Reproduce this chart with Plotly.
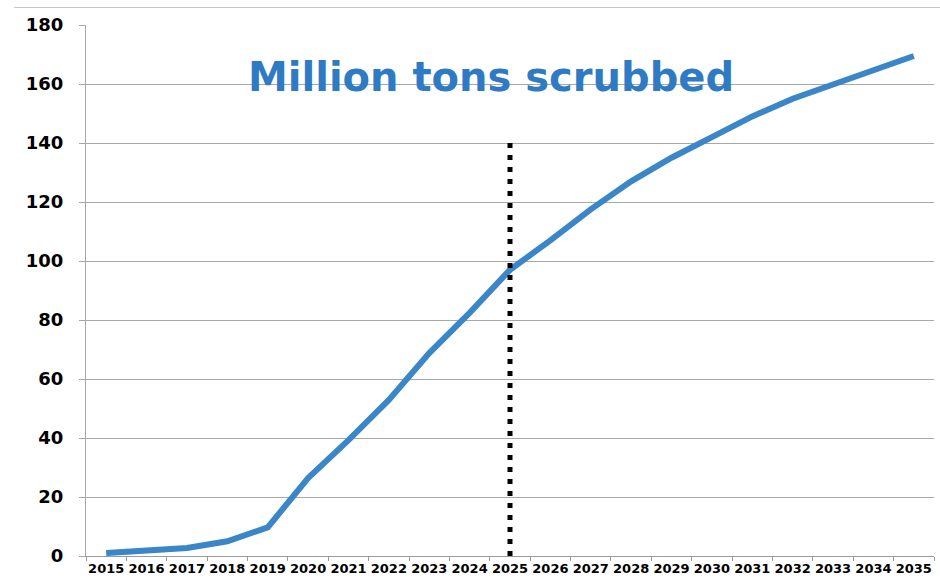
import plotly.graph_objects as go

years = [str(y) for y in range(2015, 2036)]
scrubbed = [1.0, 1.7, 2.7, 5.0, 9.7, 26.4, 39.3, 52.9, 68.8, 82.4, 97.0,
            107.0, 117.5, 127.0, 135.0, 142.0, 149.0, 155.0, 160.0, 165.0, 169.5]
y_ticks = list(range(0, 181, 20))
marker_year = "2025"
marker_top = 140
title_text = "Million tons scrubbed"

fig = go.Figure()
fig.add_trace(go.Scatter(
    x=years, y=scrubbed, mode="lines",
    line=dict(color="#3A86C8", width=6),
    hoverinfo="x+y", showlegend=False,
))

fig.add_shape(type="line", xref="x", yref="y",
              x0=years.index(marker_year), x1=years.index(marker_year),
              y0=0, y1=marker_top,
              line=dict(color="black", width=5, dash="5px,7px"))

# faint border line at top of chart area
fig.add_shape(type="line", xref="paper", yref="paper",
              x0=-0.085, x1=1.01, y0=1.033, y1=1.033,
              line=dict(color="#c8c8c8", width=1))

fig.update_layout(
    width=940, height=584,
    margin=dict(l=86, r=6, t=25, b=28),
    paper_bgcolor="white", plot_bgcolor="white",
    title=dict(text=title_text, xref="container", yref="container",
               x=491/940, y=1-77/584, xanchor="center", yanchor="middle",
               font=dict(family="DejaVu Sans", size=40, color="#2E7BC4", weight="bold")),
    font=dict(family="DejaVu Sans", color="black"),
)
fig.update_xaxes(
    type="category", range=[-0.5, len(years)-0.5],
    tickson="boundaries", ticks="outside", ticklen=4, tickcolor="#9a9a9a",
    showgrid=False, showline=True, linecolor="#9a9a9a", linewidth=1,
    tickangle=0, automargin=False,
    tickfont=dict(family="DejaVu Sans", size=13, color="black", weight="bold"),
    fixedrange=True,
)
fig.update_yaxes(
    range=[0, 180], tickvals=y_ticks, automargin=False,
    showgrid=True, gridcolor="#a8a8a8", gridwidth=1, zeroline=False,
    showline=True, linecolor="#a8a8a8", linewidth=1,
    ticks="outside", ticklen=6, tickcolor="#a8a8a8", ticklabelstandoff=12,
    tickfont=dict(family="DejaVu Sans", size=18, color="black", weight="bold"),
    fixedrange=True,
)

fig.write_html("out.html", config={"displayModeBar": False})
